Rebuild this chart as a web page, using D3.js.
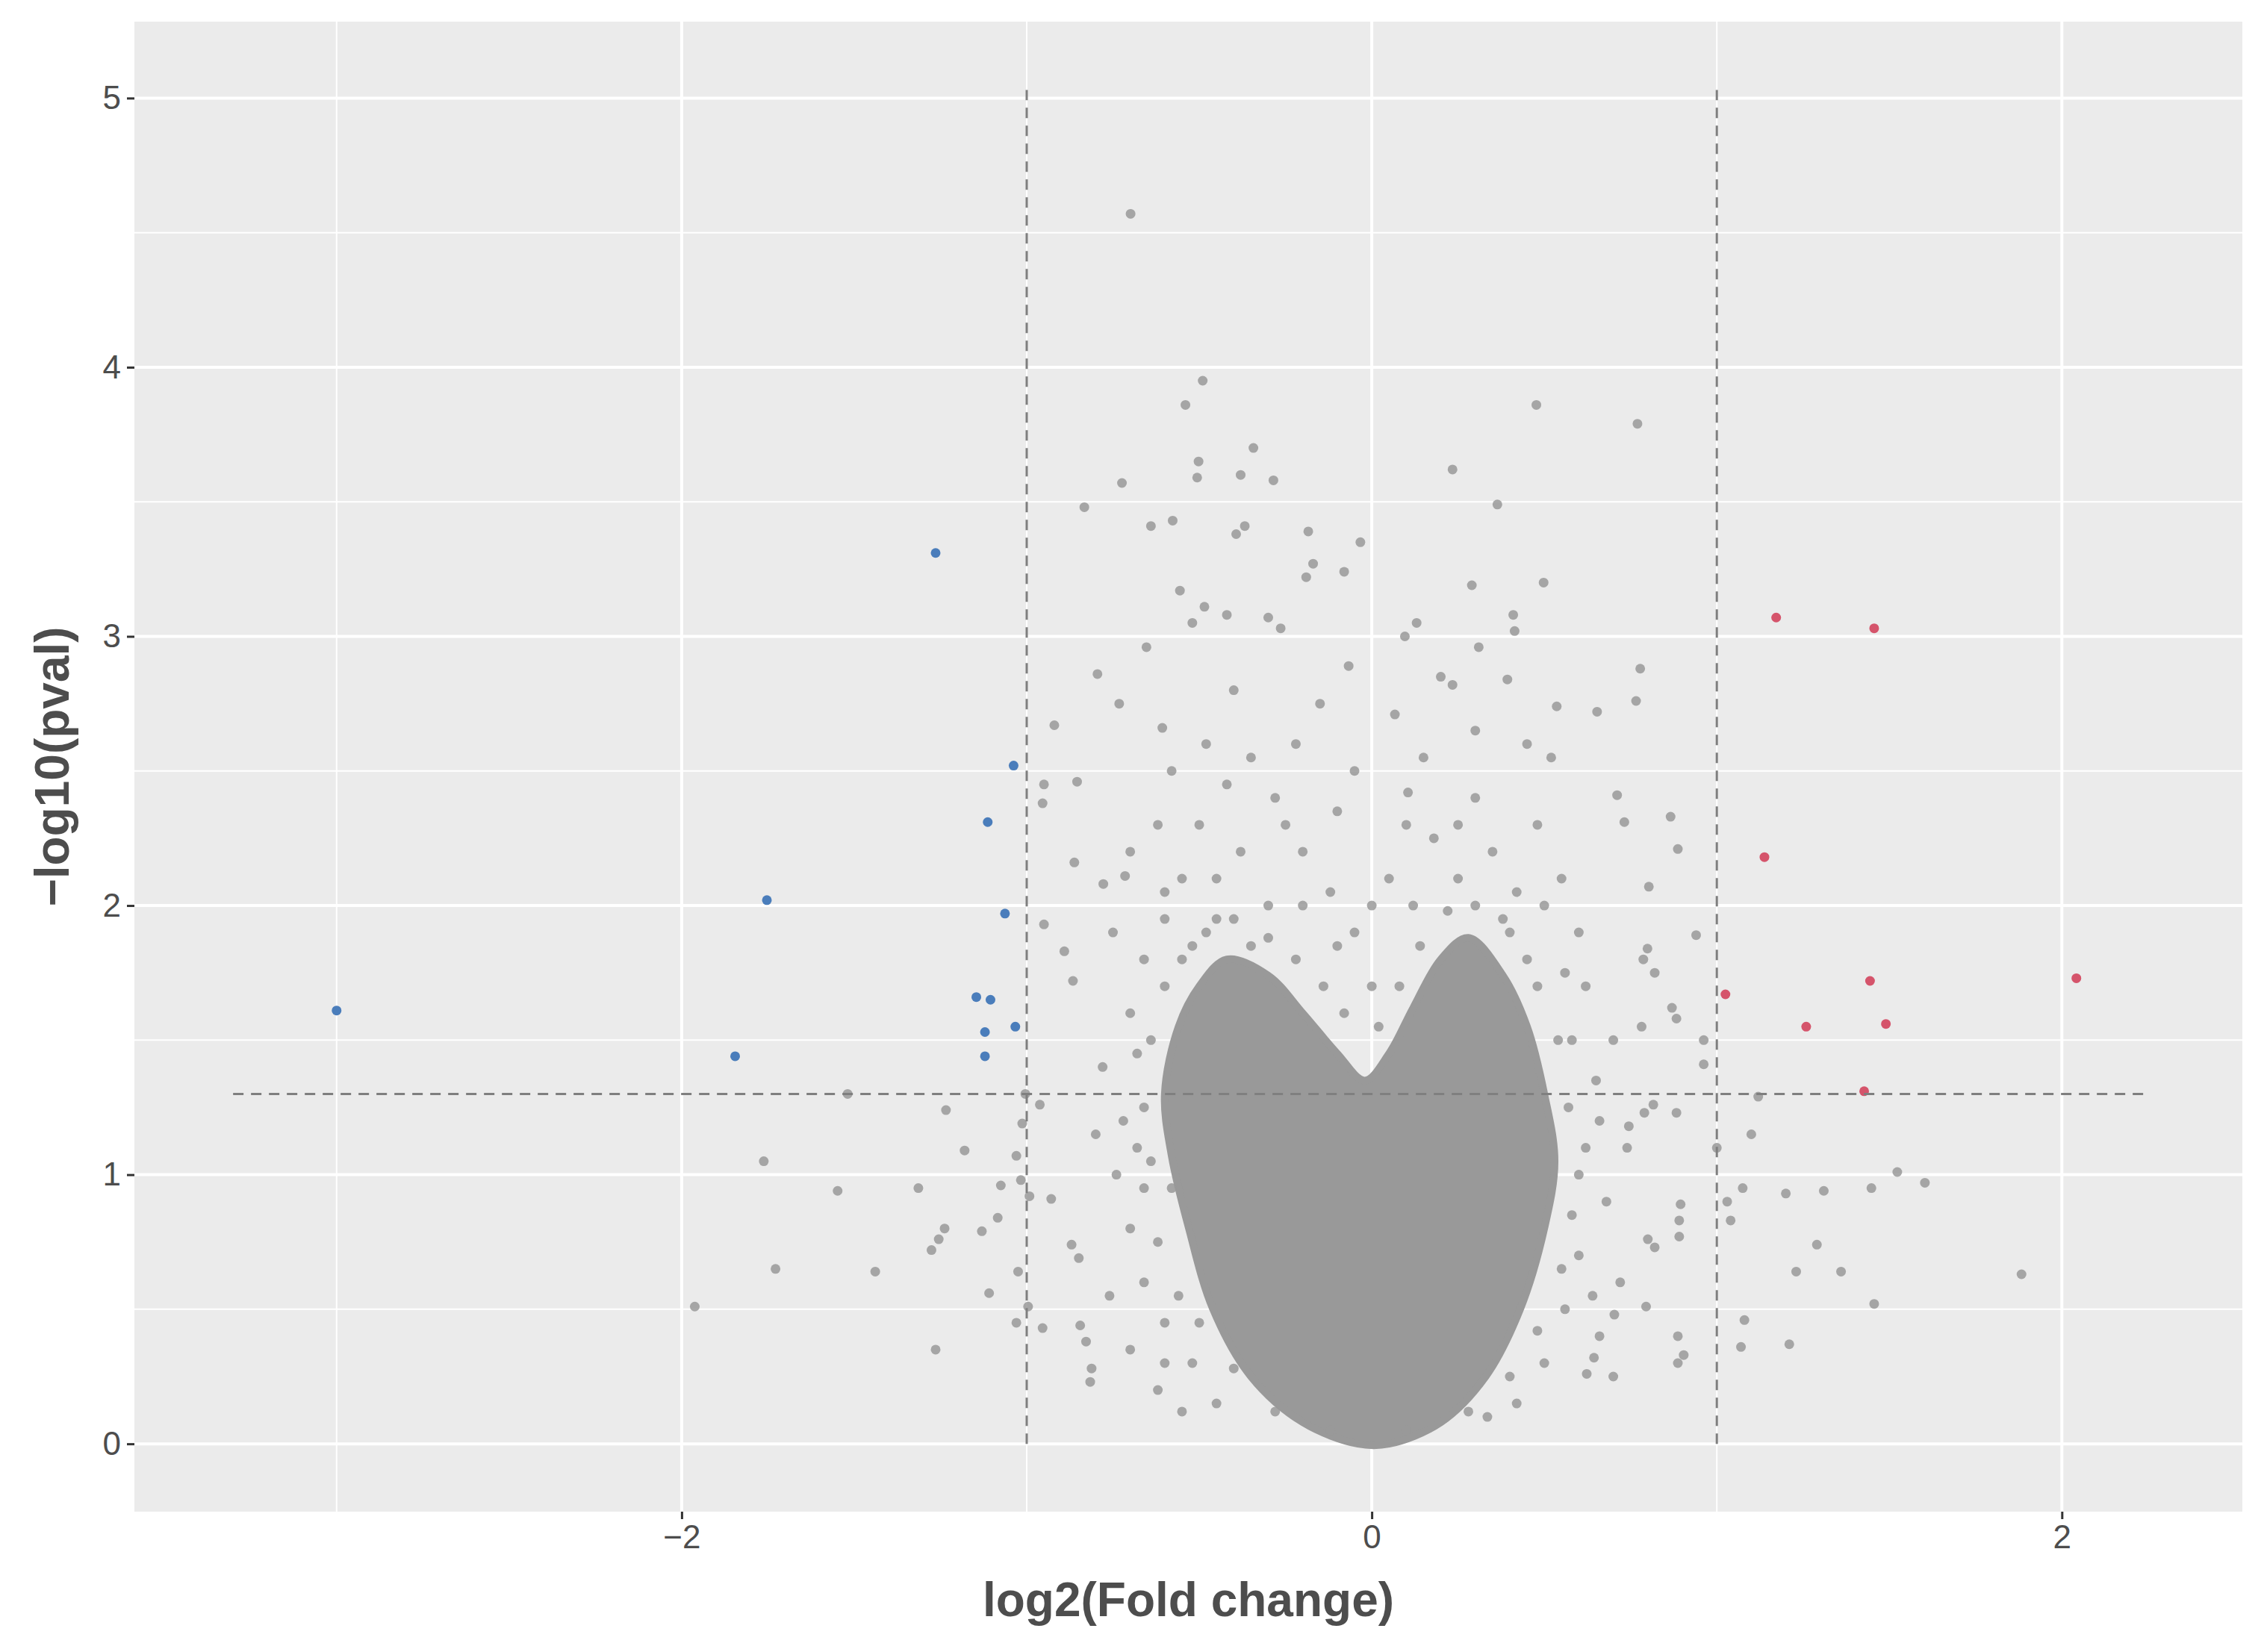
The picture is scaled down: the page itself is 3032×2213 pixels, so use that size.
<!DOCTYPE html><html><head><meta charset="utf-8"><script src="https://cdn.jsdelivr.net/npm/d3@7"></script>
<style>body{margin:0;background:#fff}</style></head><body><svg id="c" width="3032" height="2213"></svg><script>
const xTicks=[-2,0,2], yTicks=[0,1,2,3,4,5];
const downPts=[[-3.00,1.61],[-1.264,3.31],[-1.038,2.52],[-1.113,2.31],[-1.753,2.02],[-1.063,1.97],[-1.146,1.66],[-1.105,1.65],[-1.033,1.55],[-1.121,1.53],[-1.121,1.44],[-1.845,1.44]];
const upPts=[[1.172,3.07],[1.456,3.03],[1.138,2.18],[1.025,1.67],[1.444,1.72],[2.042,1.73],[1.259,1.55],[1.490,1.56],[1.427,1.31]];
const grayPts=[[-0.699,4.57],[-0.49,3.95],[-0.54,3.86],[0.477,3.86],[0.77,3.79],[-0.343,3.70],[-0.502,3.65],[-0.285,3.58],[-0.38,3.60],[-0.506,3.59],[-0.724,3.57],[0.234,3.62],[0.364,3.49],[-0.833,3.48],[-0.577,3.43],[-0.64,3.41],[-0.368,3.41],[-0.393,3.38],[-0.184,3.39],[-0.033,3.35],[-0.17,3.27],[-0.19,3.22],[-0.08,3.24],[0.29,3.19],[0.498,3.20],[-0.556,3.17],[-0.485,3.11],[-0.42,3.08],[-0.30,3.07],[-0.52,3.05],[0.41,3.08],[0.414,3.02],[0.13,3.05],[0.096,3.00],[-0.264,3.03],[0.31,2.96],[-0.653,2.96],[-0.067,2.89],[-0.795,2.86],[0.778,2.88],[0.393,2.84],[0.234,2.82],[-0.732,2.75],[0.766,2.76],[0.653,2.72],[0.536,2.74],[0.067,2.71],[-0.92,2.67],[-0.607,2.66],[-0.95,2.45],[-0.954,2.38],[-0.854,2.46],[0.105,2.42],[0.711,2.41],[0.732,2.31],[0.866,2.33],[0.887,2.21],[-0.862,2.16],[-0.715,2.11],[-0.778,2.08],[0.803,2.07],[-0.95,1.93],[0.799,1.84],[0.94,1.89],[0.787,1.80],[0.82,1.75],[-0.891,1.83],[-0.866,1.72],[0.87,1.62],[0.883,1.58],[0.782,1.55],[0.962,1.50],[0.962,1.41],[0.816,1.26],[0.79,1.23],[0.883,1.23],[1.12,1.29],[1.10,1.15],[0.745,1.18],[1.0,1.10],[1.523,1.01],[1.603,0.97],[1.448,0.95],[1.075,0.95],[1.20,0.93],[1.31,0.94],[1.03,0.90],[1.04,0.83],[0.895,0.89],[0.891,0.83],[0.891,0.77],[0.80,0.76],[0.82,0.73],[1.29,0.74],[1.23,0.64],[1.36,0.64],[1.883,0.63],[1.456,0.52],[1.08,0.46],[0.795,0.51],[0.703,0.48],[0.887,0.40],[0.904,0.33],[1.07,0.36],[1.21,0.37],[0.887,0.30],[0.644,0.32],[0.623,0.26],[0.335,0.10],
[-1.519,1.30],[-1.762,1.05],[-1.234,1.24],[-1.18,1.09],[-1.075,0.96],[-1.017,0.98],[-1.084,0.84],[-1.13,0.79],[-1.238,0.80],[-1.255,0.76],[-1.276,0.72],[-1.314,0.95],[-1.548,0.94],[-1.728,0.65],[-1.439,0.64],[-1.109,0.56],[-1.025,0.64],[-1.962,0.51],[-1.264,0.35],[-0.996,0.51],[-1.03,0.45],[-0.954,0.43],[-1.004,1.30],[-1.013,1.19],[-1.03,1.07],[-0.87,0.74],[-0.849,0.69],[-0.845,0.44],[-0.828,0.38],[-0.816,0.23],[-0.812,0.28],[-0.962,1.26],[-0.929,0.91],[-0.992,0.92]];
const haloPts=[[-0.45,0.15],[-0.52,0.3],[-0.6,0.45],[-0.66,0.6],[-0.7,0.8],[-0.74,1.0],[-0.72,1.2],[-0.78,1.4],[-0.7,1.6],[-0.66,1.8],[-0.6,1.95],[-0.55,2.1],[-0.5,2.3],[-0.42,2.45],[-0.35,2.55],[-0.28,2.4],[-0.2,2.2],[-0.12,2.05],[-0.3,2.0],[-0.45,1.95],[-0.38,2.2],[-0.62,2.3],[-0.58,2.5],[-0.48,2.6],[-0.22,2.6],[-0.1,2.35],[-0.05,1.9],[0.0,1.7],[0.05,2.1],[0.12,2.0],[0.18,2.25],[0.25,2.1],[0.3,2.4],[0.35,2.2],[0.42,2.05],[0.48,2.3],[0.55,2.1],[0.6,1.9],[0.62,1.7],[0.58,1.5],[0.65,1.35],[0.62,1.1],[0.68,0.9],[0.6,0.7],[0.56,0.5],[0.5,0.3],[0.42,0.15],[0.7,1.5],[0.72,0.6],[0.66,0.4],[-0.62,0.2],[-0.76,0.55],[-0.8,1.15],[-0.68,1.45],[-0.75,1.9],[-0.7,2.2],[0.52,2.55],[0.3,2.65],[0.15,2.55],[-0.15,2.75],[-0.4,2.8],[0.2,2.85],[0.45,2.6],[-0.05,2.5],[-0.66,0.95],[0.74,1.1],[0.7,0.25],[-0.55,0.12],[0.1,2.3],[-0.25,2.3],[0.38,1.95],[-0.52,1.85],[-0.35,1.85],[0.45,1.8],
[-0.6,0.3],[-0.56,0.55],[-0.62,0.75],[-0.64,1.05],[-0.66,1.25],[-0.64,1.5],[-0.6,1.7],[-0.55,1.8],[-0.48,1.9],[-0.4,1.95],[-0.3,1.88],[-0.22,1.8],[-0.14,1.7],[-0.08,1.6],[0.02,1.55],[0.08,1.7],[0.14,1.85],[0.22,1.98],[0.3,2.0],[0.4,1.9],[0.48,1.7],[0.54,1.5],[0.57,1.25],[0.6,1.0],[0.58,0.85],[0.55,0.65],[0.48,0.42],[0.4,0.25],[0.28,0.12],[-0.28,0.12],[-0.4,0.28],[-0.5,0.45],[-0.58,0.95],[-0.7,0.35],[0.64,0.55],[0.66,1.2],[-0.1,1.85],[0.0,2.0],[-0.2,2.0],[0.25,2.3],[-0.45,2.1],[0.5,2.0],[-0.68,1.1],[0.56,1.75],[-0.6,2.05],[0.1,0.05],[-0.12,0.05]];
const coreShape=[[-0.04,0.0],[-0.2,0.08],[-0.35,0.25],[-0.46,0.5],[-0.53,0.8],[-0.58,1.07],[-0.6,1.3],[-0.56,1.55],[-0.5,1.7],[-0.42,1.8],[-0.3,1.74],[-0.2,1.6],[-0.1,1.45],[-0.02,1.35],[0.05,1.45],[0.12,1.62],[0.2,1.8],[0.28,1.88],[0.38,1.74],[0.45,1.55],[0.5,1.3],[0.53,1.05],[0.5,0.8],[0.43,0.5],[0.33,0.25],[0.2,0.08],[0.05,0.0]];
const fcCut=[-1,1], pCut=1.3;

const svg=d3.select("#c");
const L=180,R=3003,T=29,B=2025;
const x=d3.scaleLinear().domain([-3.586,2.523]).range([L,R]);
const y=d3.scaleLinear().domain([-0.252,5.284]).range([B,T]);
svg.append("rect").attr("x",L).attr("y",T).attr("width",R-L).attr("height",B-T).attr("fill","#EBEBEB");
const g=svg.append("g");
[-3,-1,1].forEach(v=>g.append("line").attr("x1",x(v)).attr("x2",x(v)).attr("y1",T).attr("y2",B).attr("stroke","#fff").attr("stroke-width",2));
d3.range(0.5,5.5,1).forEach(v=>g.append("line").attr("y1",y(v)).attr("y2",y(v)).attr("x1",L).attr("x2",R).attr("stroke","#fff").attr("stroke-width",2));
xTicks.forEach(v=>g.append("line").attr("x1",x(v)).attr("x2",x(v)).attr("y1",T).attr("y2",B).attr("stroke","#fff").attr("stroke-width",4));
yTicks.forEach(v=>g.append("line").attr("y1",y(v)).attr("y2",y(v)).attr("x1",L).attr("x2",R).attr("stroke","#fff").attr("stroke-width",4));

const gray="rgba(153,153,153,0.85)";
svg.append("path").datum(coreShape).attr("d",d3.line().x(d=>x(d[0])).y(d=>y(d[1])).curve(d3.curveCatmullRomClosed)).attr("fill","#999").attr("stroke","#999").attr("stroke-width",10);
svg.append("g").selectAll("circle").data(haloPts.concat(grayPts)).join("circle").attr("cx",d=>x(d[0])).attr("cy",d=>y(d[1])).attr("r",6.5).attr("fill",gray);
svg.append("g").selectAll("circle").data(downPts).join("circle").attr("cx",d=>x(d[0])).attr("cy",d=>y(d[1])).attr("r",6.5).attr("fill","#4A7DBB");
svg.append("g").selectAll("circle").data(upPts).join("circle").attr("cx",d=>x(d[0])).attr("cy",d=>y(d[1])).attr("r",6.5).attr("fill","#D5546B");

const dash={stroke:"#7f7f7f","stroke-width":3,"stroke-dasharray":"14,10"};
fcCut.forEach(v=>{const l=svg.append("line").attr("x1",x(v)).attr("x2",x(v)).attr("y1",y(0)).attr("y2",y(5.03));Object.entries(dash).forEach(([k,val])=>l.attr(k,val));});
{const l=svg.append("line").attr("x1",x(-3.3)).attr("x2",x(2.25)).attr("y1",y(pCut)).attr("y2",y(pCut));Object.entries(dash).forEach(([k,val])=>l.attr(k,val));}

const xa=svg.append("g").attr("transform",`translate(0,${B})`).call(d3.axisBottom(x).tickValues(xTicks).tickSize(10).tickPadding(8).tickFormat(d=>d<0?"\u2212"+(-d):d));
const ya=svg.append("g").attr("transform",`translate(${L},0)`).call(d3.axisLeft(y).tickValues(yTicks).tickSize(10).tickPadding(8).tickFormat(d3.format("d")));
[xa,ya].forEach(a=>{a.select(".domain").remove();a.selectAll("line").attr("stroke","#333").attr("stroke-width",3);a.selectAll("text").attr("fill","#4D4D4D").attr("font-family","Liberation Sans, Arial").attr("font-size",44);});
svg.append("text").attr("x",(L+R)/2).attr("y",2165).attr("text-anchor","middle").attr("font-family","Liberation Sans, Arial").attr("font-weight","bold").attr("font-size",64).attr("fill","#4D4D4D").text("log2(Fold change)");
svg.append("text").attr("transform",`translate(92,${(T+B)/2}) rotate(-90)`).attr("text-anchor","middle").attr("font-family","Liberation Sans, Arial").attr("font-weight","bold").attr("font-size",64).attr("fill","#4D4D4D").text("\u2212log10(pval)");
</script></body></html>
